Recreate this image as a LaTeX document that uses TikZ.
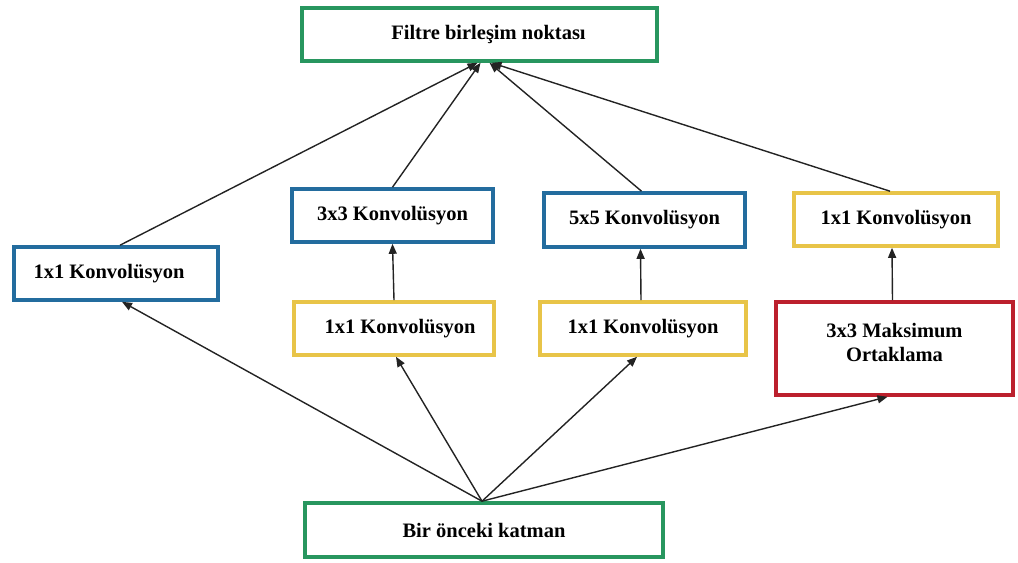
\documentclass[tikz,border=0pt]{standalone}
\usepackage{fontspec}
\setmainfont{Liberation Serif}
\usetikzlibrary{arrows.meta}
\definecolor{bgreen}{RGB}{40,150,95}
\definecolor{bblue}{RGB}{35,108,158}
\definecolor{byellow}{RGB}{232,196,72}
\definecolor{bred}{RGB}{188,32,45}
\definecolor{lnc}{RGB}{35,35,35}
\begin{document}
\begin{tikzpicture}[x=1bp,y=-1bp,
  box/.style={draw, line width=3.6bp, fill=white, inner sep=0pt, align=center,
    font=\fontsize{20.5bp}{24bp}\selectfont\bfseries},
  gbox/.style={box, draw=bgreen},
  blbox/.style={box, draw=bblue},
  ybox/.style={box, draw=byellow},
  rbox/.style={box, draw=bred},
  conn/.style={draw=lnc, line width=1.4bp, -{Triangle[length=10bp,width=8bp]}}]
\useasboundingbox (0,0) rectangle (1018,563);
\node[gbox, minimum width=355bp, minimum height=53bp] (top) at (479.5,34.5) {\hspace*{18bp}Filtre birleşim noktası};
\node[blbox, minimum width=204bp, minimum height=53bp] (c1) at (116,273.5) {1x1 Konvolüsyon\hspace*{14bp}};
\node[blbox, minimum width=201bp, minimum height=53bp] (c3) at (392.5,215.5) {3x3 Konvolüsyon};
\node[blbox, minimum width=201bp, minimum height=54bp] (c5) at (644.5,220) {5x5 Konvolüsyon};
\node[ybox, minimum width=204bp, minimum height=53bp] (cp) at (896,219.5) {1x1 Konvolüsyon};
\node[ybox, minimum width=200bp, minimum height=53bp] (r3) at (394,328.5) {\hspace*{12bp}1x1 Konvolüsyon};
\node[ybox, minimum width=206bp, minimum height=53bp] (r5) at (643,328.5) {1x1 Konvolüsyon};
\node[rbox, minimum width=237bp, minimum height=93bp] (mp) at (894.5,348.5) {3x3 Maksimum\\Ortaklama\\[-12bp]};
\node[gbox, minimum width=358bp, minimum height=54bp] (bot) at (484,530) {Bir önceki katman};
% convergence points
\coordinate (ta) at ([xshift=-2bp]top.south);
\coordinate (tb) at ([xshift=1bp]top.south);
\coordinate (tc) at ([xshift=10bp]top.south);
\coordinate (td) at ([xshift=12bp]top.south);
\coordinate (bs) at ([xshift=-2bp]bot.north);
% to top
\draw[conn] ([xshift=4bp]c1.north) -- (ta);
\draw[conn] (c3.north) -- (tb);
\draw[conn] ([xshift=-3bp]c5.north) -- (tc);
\draw[conn] ([xshift=-6bp]cp.north) -- (td);
% vertical
\draw[conn] (r3.north) -- (c3.south);
\draw[conn] ([xshift=-2bp]r5.north) -- ([xshift=-4bp]c5.south);
\draw[conn] ([xshift=-2bp]mp.north) -- ([xshift=-4bp]cp.south);
% from bottom
\draw[conn] (bs) -- ([xshift=6bp]c1.south);
\draw[conn] (bs) -- ([xshift=2bp]r3.south);
\draw[conn] (bs) -- ([xshift=-6bp]r5.south);
\draw[conn] (bs) -- ([xshift=-7bp]mp.south);
\end{tikzpicture}
\end{document}
